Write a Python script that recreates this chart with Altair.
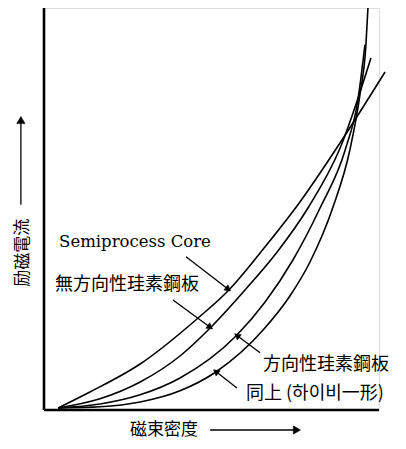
import altair as alt
import pandas as pd
import numpy as np

# ---- curve data (arbitrary units: flux density vs exciting current) ----
semi_x = [0.42, 1.37, 2.87, 4.60, 5.52, 6.60, 7.64, 8.84, 10.18]
semi_y = [0.05, 0.45, 1.15, 2.30, 3.00, 4.08, 5.20, 6.68, 8.45]

nonori_x = [0.42, 1.67, 2.87, 4.06, 4.96, 6.00, 6.96, 7.88, 8.84, 9.76]
nonori_y = [0.05, 0.28, 0.70, 1.35, 2.05, 3.00, 3.95, 5.05, 6.55, 8.80]

ori_x = [0.42, 1.67, 2.87, 4.06, 5.73, 6.60, 7.43, 8.24, 8.99, 9.37, 9.58]
ori_y = [0.05, 0.15, 0.38, 0.80, 1.85, 2.70, 3.75, 5.05, 6.50, 7.75, 9.13]

hib_x = [0.42, 1.67, 2.87, 4.06, 5.13, 6.54, 7.34, 7.94, 8.63, 9.13, 9.43, 9.61, 9.67]
hib_y = [0.05, 0.08, 0.20, 0.48, 0.95, 2.00, 2.85, 3.70, 5.08, 6.50, 7.88, 9.13, 10.05]

series_names = ["Semiprocess Core", "無方向性珪素鋼板", "方向性珪素鋼板", "同上（하이비一形）"]

# ---- labels ----
label_text = ["Semiprocess Core", "無方向性珪素鋼板", "方向性珪素鋼板", "同上 (하이비一形)"]
label_x = [0.45, 0.33, 6.54, 6.03]
label_y = [4.20, 3.13, 1.13, 0.40]

# leader arrows (from -> to)
arr_x1 = [4.24, 3.85, 6.45, 5.76]
arr_y1 = [3.83, 2.75, 1.43, 0.55]
arr_x2 = [5.50, 4.96, 5.76, 5.13]
arr_y2 = [3.02, 2.07, 1.86, 0.96]

# axis titles and their arrows
xtitle, ytitle = "磁束密度", "励磁電流"
xtitle_pos = (2.57, -0.5)
ytitle_pos = (-0.62, 3.93)
axarr_x1 = [4.96, -0.69]
axarr_y1 = [-0.5, 5.13]
axarr_x2 = [7.55, -0.69]
axarr_y2 = [-0.5, 7.25]

# axis frame extents
xaxis_end = 10.0
yaxis_end = 10.05

W, H = 335, 402
XMAX, YMAX = 10.0, 10.05
PX_X, PX_Y = W / XMAX, H / YMAX

xs = alt.Scale(domain=[0, XMAX], nice=False, zero=False)
ys = alt.Scale(domain=[0, YMAX], nice=False, zero=False)
X = lambda f: alt.X(f, scale=xs, axis=None)
Y = lambda f: alt.Y(f, scale=ys, axis=None)

rows = []
for name, xv, yv in zip(series_names, [semi_x, nonori_x, ori_x, hib_x], [semi_y, nonori_y, ori_y, hib_y]):
    for i, (a, b) in enumerate(zip(xv, yv)):
        rows.append({"series": name, "x": a, "y": b, "o": i})
curves = pd.DataFrame(rows)

lines = alt.Chart(curves).mark_line(color="black", strokeWidth=1.6, interpolate="monotone", clip=False).encode(
    x=X("x:Q"), y=Y("y:Q"), detail="series:N", order="o:Q",
)

frame = pd.DataFrame({"x": [0, 0], "y": [0, 0], "x2": [0, xaxis_end], "y2": [yaxis_end, 0]})
frame_rules = alt.Chart(frame).mark_rule(color="black", strokeWidth=2.6).encode(
    x=X("x:Q"), y=Y("y:Q"), x2="x2:Q", y2="y2:Q"
)

all_arr = pd.DataFrame({
    "ax1": arr_x1 + axarr_x1, "ay1": arr_y1 + axarr_y1,
    "ax2": arr_x2 + axarr_x2, "ay2": arr_y2 + axarr_y2,
    "sz": [45] * len(arr_x1) + [70] * len(axarr_x1),
})
dxp = (all_arr["ax2"] - all_arr["ax1"]) * PX_X
dyp = (all_arr["ay2"] - all_arr["ay1"]) * PX_Y
all_arr["ang"] = (np.degrees(np.arctan2(dxp, dyp)) + 360) % 360

arr_rules = alt.Chart(all_arr).mark_rule(color="black", strokeWidth=1.3, clip=False).encode(
    x=X("ax1:Q"), y=Y("ay1:Q"), x2="ax2:Q", y2="ay2:Q"
)
heads = alt.Chart(all_arr).mark_point(shape="triangle-up", filled=True, fill="black", stroke="black",
                                      strokeWidth=0.5, opacity=1, clip=False).encode(
    x=X("ax2:Q"), y=Y("ay2:Q"),
    angle=alt.Angle("ang:Q", scale=None),
    size=alt.Size("sz:Q", scale=None, legend=None),
)

labels = pd.DataFrame({"t": label_text, "x": label_x, "y": label_y})
text_serif = alt.Chart(labels.iloc[[0]]).mark_text(align="left", baseline="middle", font="DejaVu Serif",
                                                   fontSize=16.5, color="black").encode(
    x=X("x:Q"), y=Y("y:Q"), text="t:N")
text_cjk = alt.Chart(labels.iloc[[1, 2]]).mark_text(align="left", baseline="middle", font="Noto Sans CJK JP",
                                                    fontSize=18, color="black").encode(
    x=X("x:Q"), y=Y("y:Q"), text="t:N")
text_cjk2 = alt.Chart(labels.iloc[[3]]).mark_text(align="left", baseline="middle", font="Noto Sans CJK JP",
                                                  fontSize=18, color="black").encode(
    x=X("x:Q"), y=Y("y:Q"), text="t:N")

titles = pd.DataFrame({"t": [xtitle], "x": [xtitle_pos[0]], "y": [xtitle_pos[1]]})
xt = alt.Chart(titles).mark_text(align="left", baseline="middle", font="Noto Sans CJK JP", fontSize=17,
                                 color="black").encode(x=X("x:Q"), y=Y("y:Q"), text="t:N")
ytitles = pd.DataFrame({"t": [ytitle], "x": [ytitle_pos[0]], "y": [ytitle_pos[1]]})
yt = alt.Chart(ytitles).mark_text(align="center", baseline="middle", angle=270, font="Noto Sans CJK JP",
                                  fontSize=17, color="black").encode(x=X("x:Q"), y=Y("y:Q"), text="t:N")

chart = alt.layer(lines, frame_rules, arr_rules, heads, text_serif, text_cjk, text_cjk2, xt, yt).properties(
    width=W, height=H,
    autosize=alt.AutoSizeParams(type="none"),
    padding={"left": 36, "top": 0, "right": 19, "bottom": 31},
).configure_view(stroke=None).configure(background="white")

chart.save("out.html", embed_options={"renderer": "svg", "actions": False})
